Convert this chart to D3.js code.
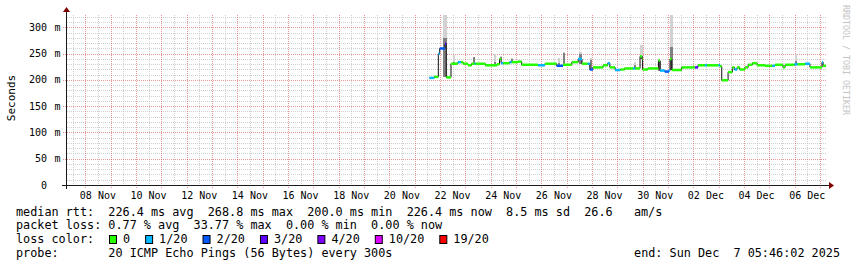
<!DOCTYPE html>
<html>
<head>
<meta charset="utf-8">
<script src="https://cdn.jsdelivr.net/npm/d3@7"></script>
<style>
  body { margin: 0; background: #fff; }
  svg text { font-family: "DejaVu Sans Mono", monospace; white-space: pre; }
</style>
</head>
<body>
<div id="chart"></div>
<script>
// time window of the graph
var graphStart = "2025-11-07T05:46:02";
var graphEnd = "2025-12-07T05:46:02";
var dataBase = "2025-11-22T00:00:00";   // step hours are counted from here

var yTicks = [0, 50, 100, 150, 200, 250, 300];
var yTickLabels = ["0", "50", "100", "150", "200", "250", "300"];

// median rtt steps: start hour, value (ms), lost pings out of 20
var stepHour = [-10, -5.3, -1.5, -0.2, 4.8, 6, 10.5, 17, 20, 22, 26.6, 30, 33, 34, 43, 54, 56.5, 58, 60, 66,
  68, 74, 77.5, 93, 99.5, 110.6, 116.6, 125, 131, 134.6, 140, 142, 145, 154.6, 159, 161, 166, 171, 175, 183,
  185, 189.6, 191.5, 192, 197, 207, 208.5, 213, 217, 218, 219.6, 229, 239, 241.7, 244.5, 251, 253, 264, 265.5, 267,
  273, 277, 279, 281.5, 284, 289, 292, 296, 300.5, 308, 315, 317.5, 325, 327, 336, 339, 346, 350.6, 362, 363];
var medianMs = [204, 206, 250, 260, 269, 205, 231, 234, 234, 231, 228, 231, 231, 231, 228, 230, 240, 232, 232, 234,
  234, 235, 229, 228, 231, 227, 229, 234, 240, 231, 231, 220, 224, 228, 232, 224, 219, 220, 222, 222,
  222, 245, 240, 220, 222, 237, 218, 216, 218, 240, 219, 224, 224, 224, 228, 228, 228, 228, 226, 199.5,
  215, 224, 220, 224, 220, 224, 229, 232, 228, 227, 227, 229, 224, 229, 230, 230, 231, 224, 234, 227];
var lossOf20 = [1, 0, 1, 2, 3, 0, 0, 1, 0, 0, 0, 0, 1, 0, 0, 0, 0, 1, 0, 1,
  0, 0, 0, 1, 0, 2, 0, 0, 1, 0, 1, 2, 0, 0, 1, 0, 1, 0, 0, 1,
  0, 0, 0, 0, 0, 0, 1, 2, 1, 0, 0, 0, 0, 3, 0, 1, 0, 1, 0, 0,
  0, 0, 1, 0, 0, 0, 0, 0, 0, 0, 1, 0, 0, 0, 1, 0, 1, 0, 1, 0];
var lastHour = 365.77;

// smoke (ping spread) where it shows above the median
var smokeFrom = [3, 12.5, 31, 51.5, 56.5, 67, 112, 116.5, 132, 142, 184, 190, 207, 218, 336];
var smokeTo = [7, 13.5, 33, 52.5, 57.5, 69, 113, 117.5, 135, 143, 185.5, 192, 209, 221, 338];
var smokeMaxMs = [324, 247, 244, 250, 246, 241, 241, 254, 254, 241, 234, 266, 237, 324, 250];
var smokeUpperMs = [280, 235, 243, 235, 244, 240, 232, 252, 250, 238, 228, 245, 236, 262, 236];

// loss legend
var lossSteps = [0, 1, 2, 3, 4, 10, 19];
var lossLabels = ["0", "1/20", "2/20", "3/20", "4/20", "10/20", "19/20"];
var lossColors = ["#26ff00", "#00b8ff", "#0059ff", "#5e00ff", "#7e00ff", "#dd00ff", "#ff0000"];

var statsLines = [
  "median rtt:  226.4 ms avg  268.8 ms max  200.0 ms min  226.4 ms now  8.5 ms sd  26.6   am/s",
  "packet loss: 0.77 % avg  33.77 % max  0.00 % min  0.00 % now",
  "loss color:",
  "probe:       20 ICMP Echo Pings (56 Bytes) every 300s"
];
var endLabel = "end: Sun Dec  7 05:46:02 2025";

var width = 857, height = 267;
var plot = {left: 66, right: 826, top: 15, bottom: 185};

var svg = d3.select("#chart").append("svg")
  .attr("width", width)
  .attr("height", height);

var parse = d3.isoParse;
var t0 = parse(graphStart), t1 = parse(graphEnd), base = parse(dataBase);
function hourDate(h) { return new Date(base.getTime() + h * 3600e3); }

var xScale = d3.scaleTime().domain([t0, t1]).range([plot.left, plot.right]);
var yScale = d3.scaleLinear().domain([0, 323.8]).range([plot.bottom, plot.top]);

function px(v) { return Math.round(v) + 0.5; }

// grid
var grid = svg.append("g").attr("stroke-dasharray", "1,1").attr("shape-rendering", "crispEdges");
d3.range(10, 330, 10).filter(function(v) { return v % 50 !== 0 && yScale(v) >= plot.top; }).forEach(function(v) {
  grid.append("line").attr("x1", plot.left + 1).attr("x2", plot.right)
    .attr("y1", px(yScale(v))).attr("y2", px(yScale(v)))
    .attr("stroke", "#c0c0c0").attr("stroke-opacity", 0.75);
});
xScale.ticks(d3.timeHour.every(12)).filter(function(d) { return d.getHours() === 12; }).forEach(function(d) {
  grid.append("line").attr("y1", plot.top).attr("y2", plot.bottom)
    .attr("x1", px(xScale(d))).attr("x2", px(xScale(d)))
    .attr("stroke", "#c0c0c0").attr("stroke-opacity", 0.75);
});
yTicks.filter(function(v) { return v > 0; }).forEach(function(v) {
  grid.append("line").attr("x1", plot.left - 3).attr("x2", plot.right)
    .attr("y1", px(yScale(v))).attr("y2", px(yScale(v)))
    .attr("stroke", "#de5050").attr("stroke-opacity", 0.6);
});
xScale.ticks(d3.timeDay.every(1)).forEach(function(d) {
  grid.append("line").attr("y1", plot.top).attr("y2", plot.bottom + 3)
    .attr("x1", px(xScale(d))).attr("x2", px(xScale(d)))
    .attr("stroke", "#de5050").attr("stroke-opacity", 0.6);
});

// smoke
var steps = stepHour.map(function(h, i) {
  return {from: h, to: i < stepHour.length - 1 ? stepHour[i + 1] : lastHour, v: medianMs[i], loss: lossOf20[i]};
});
function medianAt(h) {
  var i = d3.bisectRight(stepHour, h) - 1;
  return medianMs[Math.max(0, i)];
}
var smoke = svg.append("g").attr("shape-rendering", "crispEdges");
smokeFrom.forEach(function(h, i) {
  var xa = Math.round(xScale(hourDate(h)));
  var xb = Math.max(xa + 2, Math.round(xScale(hourDate(smokeTo[i]))));
  var lo = Math.min(medianAt(h), medianAt(smokeTo[i] - 0.01));
  var top = Math.max(plot.top, yScale(smokeMaxMs[i]));
  smoke.append("rect").attr("x", xa).attr("width", xb - xa)
    .attr("y", top).attr("height", Math.max(0, yScale(lo) - top))
    .attr("fill", "#d2d2d2");
  if (smokeUpperMs[i] > lo) {
    smoke.append("rect").attr("x", xa).attr("width", xb - xa)
      .attr("y", yScale(smokeUpperMs[i])).attr("height", yScale(lo) - yScale(smokeUpperMs[i]))
      .attr("fill", "#808080");
  }
});

// median line (thin) then loss-coloured steps
var linePts = steps.map(function(s) { return [s.from, s.v]; });
linePts.push([lastHour, medianMs[medianMs.length - 1]]);
svg.append("path")
  .attr("d", d3.line()
    .x(function(d) { return xScale(hourDate(d[0])); })
    .y(function(d) { return yScale(d[1]); })
    .curve(d3.curveStepAfter)(linePts))
  .attr("fill", "none")
  .attr("stroke", "#111")
  .attr("stroke-width", 1);

function lossColor(n) {
  var idx = d3.bisectRight(lossSteps, n) - 1;
  return lossColors[Math.max(0, idx)];
}
svg.append("g").selectAll("line")
  .data(steps)
  .enter()
  .append("line")
    .attr("x1", function(d) { return xScale(hourDate(d.from)); })
    .attr("x2", function(d) { return xScale(hourDate(d.to)); })
    .attr("y1", function(d) { return yScale(d.v); })
    .attr("y2", function(d) { return yScale(d.v); })
    .attr("stroke", function(d) { return lossColor(d.loss); })
    .attr("stroke-width", 2.5);

// axes
var axis = svg.append("g").attr("shape-rendering", "crispEdges");
axis.append("line").attr("x1", plot.left - 4).attr("x2", plot.right + 3)
  .attr("y1", plot.bottom + 0.5).attr("y2", plot.bottom + 0.5).attr("stroke", "#1a1a1a");
axis.append("line").attr("x1", plot.left + 0.5).attr("x2", plot.left + 0.5)
  .attr("y1", plot.bottom + 4).attr("y2", plot.top - 4).attr("stroke", "#1a1a1a");
svg.append("path")
  .attr("d", "M" + (plot.right + 3) + "," + (plot.bottom - 3) + "L" + (plot.right + 8) + "," + (plot.bottom + 0.5) +
    "L" + (plot.right + 3) + "," + (plot.bottom + 4) + "Z")
  .attr("fill", "#800000");
svg.append("path")
  .attr("d", "M" + (plot.left - 3) + "," + (plot.top - 3) + "L" + (plot.left + 0.5) + "," + (plot.top - 8) +
    "L" + (plot.left + 4) + "," + (plot.top - 3) + "Z")
  .attr("fill", "#800000");

// y labels
var yLab = svg.append("g").attr("font-size", "10px").attr("fill", "#000");
yTicks.forEach(function(v, i) {
  yLab.append("text").attr("x", 47).attr("y", yScale(v) + 3.5)
    .attr("text-anchor", "end").text(yTickLabels[i]);
  if (v > 0) {
    yLab.append("text").attr("x", 54.5).attr("y", yScale(v) + 3.5).text("m");
  }
});

// x labels, centred on midday
var xLabelDays = xScale.ticks(d3.timeDay.every(1)).filter(function(d) { return d.getDate() % 2 === 0; });
var fmt = d3.timeFormat("%d %b");
svg.append("g").attr("font-size", "10px").selectAll("text")
  .data(xLabelDays)
  .enter()
  .append("text")
    .attr("x", function(d) { return xScale(d3.timeHour.offset(d, 12)); })
    .attr("y", 198.5)
    .attr("text-anchor", "middle")
    .text(function(d) { return fmt(d); });

svg.append("text")
  .attr("transform", "translate(15,98) rotate(-90)")
  .attr("text-anchor", "middle")
  .attr("font-size", "11px")
  .text("Seconds");

svg.append("text")
  .attr("transform", "translate(843,5) rotate(90)")
  .attr("font-size", "8.3px")
  .attr("fill", "#c4c4c4")
  .text("RRDTOOL / TOBI OETIKER");

// legend / stats
var lineY = [215.5, 229.3, 243, 256.7];
var legend = svg.append("g").attr("font-size", "11.8px").attr("fill", "#000");
statsLines.forEach(function(s, i) {
  legend.append("text").attr("x", 16).attr("y", lineY[i]).text(s);
});
var bx = 109;
lossLabels.forEach(function(lbl, i) {
  legend.append("rect").attr("x", bx + 0.5).attr("y", 235.5).attr("width", 7).attr("height", 8)
    .attr("fill", lossColors[i]).attr("stroke", "#000").attr("stroke-width", 1);
  var t = legend.append("text").attr("x", bx + 14).attr("y", lineY[2]).text(lbl);
  bx = bx + 14 + t.node().getComputedTextLength() + 15;
});
legend.append("text").attr("x", 840).attr("y", lineY[3]).attr("text-anchor", "end").text(endLabel);
</script>
</body>
</html>
